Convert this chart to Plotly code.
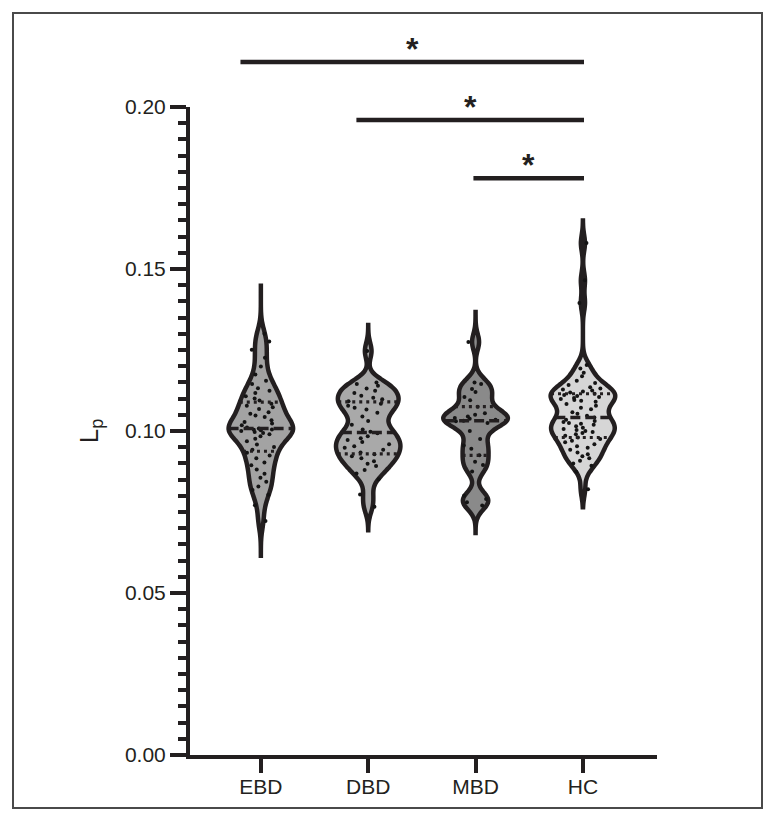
import numpy as np
import plotly.graph_objects as go

# ---------------- data ----------------
groups = ["EBD", "DBD", "MBD", "HC"]

ebd_values = [0.0722, 0.0771, 0.0803, 0.0818, 0.0829, 0.0843, 0.0856, 0.0868, 0.0881,
              0.0894, 0.0903, 0.0916, 0.0924, 0.0933, 0.0942, 0.0951, 0.0958, 0.0968,
              0.0976, 0.0984, 0.0990, 0.0994, 0.0997, 0.1000, 0.1002, 0.1004, 0.1005,
              0.1008, 0.1011, 0.1018, 0.1023, 0.1028, 0.1033, 0.1043, 0.1048, 0.1053,
              0.1058, 0.1068, 0.1073, 0.1078, 0.1084, 0.1094, 0.1100, 0.1107, 0.1117,
              0.1124, 0.1132, 0.1145, 0.1155, 0.1174, 0.1199, 0.1226, 0.1251, 0.1276,
              0.1300]

dbd_values = [0.0766, 0.0804, 0.0851, 0.0869, 0.0880, 0.0892, 0.0899, 0.0907, 0.0916,
              0.0922, 0.0928, 0.0934, 0.0942, 0.0948, 0.0953, 0.0959, 0.0966, 0.0972,
              0.0978, 0.0984, 0.0993, 0.0998, 0.1005, 0.1019, 0.1031, 0.1045, 0.1056,
              0.1066, 0.1072, 0.1078, 0.1084, 0.1092, 0.1098, 0.1103, 0.1109, 0.1117,
              0.1124, 0.1131, 0.1140, 0.1145, 0.1150, 0.1247]

mbd_values = [0.0770, 0.0780, 0.0790, 0.0800, 0.0875, 0.0895, 0.0905, 0.0925, 0.0945,
              0.0955, 0.0975, 0.1000, 0.1025, 0.1030, 0.1032, 0.1035, 0.1038, 0.1040,
              0.1045, 0.1050, 0.1055, 0.1075, 0.1095, 0.1105, 0.1120, 0.1130, 0.1145,
              0.1150, 0.1275]

hc_values = [0.0820, 0.0874, 0.0893, 0.0900, 0.0908, 0.0916, 0.0922, 0.0928, 0.0934,
             0.0942, 0.0948, 0.0953, 0.0959, 0.0965, 0.0970, 0.0975, 0.0980, 0.0985,
             0.0990, 0.0994, 0.0997, 0.1000, 0.1003, 0.1006, 0.1010, 0.1015, 0.1019,
             0.1022, 0.1025, 0.1028, 0.1031, 0.1035, 0.1042, 0.1047, 0.1053, 0.1058,
             0.1067, 0.1072, 0.1078, 0.1083, 0.1090, 0.1093, 0.1096, 0.1099, 0.1102,
             0.1105, 0.1108, 0.1111, 0.1115, 0.1119, 0.1122, 0.1125, 0.1128, 0.1131,
             0.1135, 0.1142, 0.1148, 0.1155, 0.1169, 0.1180, 0.1193, 0.1204, 0.1395,
             0.1465, 0.1580]

all_values = [ebd_values, dbd_values, mbd_values, hc_values]

kde_bandwidths = [0.0030, 0.0025, 0.0025, 0.0025]
kde_spans = [[0.0615, 0.1455], [0.0694, 0.1327], [0.0685, 0.1367], [0.0765, 0.1650]]

y_tick_values = [0.00, 0.05, 0.10, 0.15, 0.20]
y_tick_labels = ["0.00", "0.05", "0.10", "0.15", "0.20"]

# significance comparisons: start position, end position, height, label
sig_starts = [-0.19, 0.89, 1.98]
sig_ends = [3.01, 3.01, 3.01]
sig_heights = [0.2139, 0.1960, 0.1780]
sig_labels = ["*", "*", "*"]

# ---------------- style ----------------
fill_colors = ["#a3a3a3", "#a9a9a9", "#8a8a8a", "#d6d6d6"]
ink = "#231f20"
font_family = "Liberation Sans, Arial, sans-serif"
violin_width = 0.60
X_RANGE = [-0.66, 3.69]
Y_RANGE = [0.0, 0.20]


def kde_halfwidth(vals, bw, span, at):
    v = np.asarray(vals, dtype=float)

    def kde(t):
        return np.sum(np.exp(-0.5 * ((t - v) / bw) ** 2)) / (len(v) * bw * np.sqrt(2 * np.pi))

    dist = span[1] - span[0]
    n = int(np.ceil(dist / (bw / 3)))
    step = dist / n
    ts = span[0] + step * np.arange(n + 1)
    maxk = max(kde(t) for t in ts)
    return violin_width / 2 * kde(at) / maxk


fig = go.Figure()

for i, (name, vals) in enumerate(zip(groups, all_values)):
    fig.add_trace(go.Violin(
        x0=i, y=vals, name=name,
        width=violin_width, scalemode="width",
        bandwidth=kde_bandwidths[i],
        spanmode="manual", span=kde_spans[i],
        fillcolor=fill_colors[i], opacity=1,
        line=dict(color=ink, width=4.5),
        points="all", pointpos=0, jitter=0.75,
        marker=dict(size=4, color="#141414", line=dict(width=0)),
        box_visible=False, meanline_visible=False,
        showlegend=False, hoverinfo="y",
    ))

# median (dashed) and quartile (dotted) lines
for i, vals in enumerate(all_values):
    q1, med, q3 = np.percentile(vals, [25, 50, 75])
    for val, dash, w in [(med, "10px,5px", 3.5), (q1, "3px,4px", 3.2), (q3, "3px,4px", 3.2)]:
        hw = kde_halfwidth(vals, kde_bandwidths[i], kde_spans[i], val)
        fig.add_trace(go.Scatter(
            x=[i - hw, i + hw], y=[val, val], mode="lines",
            line=dict(color=ink, width=w, dash=dash),
            showlegend=False, hoverinfo="skip",
        ))


def xp(c):
    return (c - X_RANGE[0]) / (X_RANGE[1] - X_RANGE[0])


def yp(v):
    return (v - Y_RANGE[0]) / (Y_RANGE[1] - Y_RANGE[0])


shapes = []
annotations = []
for s, e, h, lab in zip(sig_starts, sig_ends, sig_heights, sig_labels):
    shapes.append(dict(type="line", xref="paper", yref="paper",
                       x0=xp(s), x1=xp(e), y0=yp(h), y1=yp(h),
                       line=dict(color=ink, width=4.5)))
    annotations.append(dict(xref="paper", yref="paper", x=xp((s + e) / 2), y=yp(h),
                            text="<b>" + lab + "</b>", showarrow=False,
                            xanchor="center", yanchor="bottom", yshift=-7,
                            font=dict(family=font_family, size=32, color=ink)))

# the page body adds an 8px offset, so the figure is 8px smaller than the window
W, H = 768, 814
ML, MR, MT, MB = 182, 119, 99, 67
pw, ph = W - ML - MR, H - MT - MB
# outer frame (window pixels 13..762 x 13..808)
shapes.append(dict(type="rect", xref="paper", yref="paper",
                   x0=(5 - ML) / pw, x1=(754 - ML) / pw,
                   y0=(H - MB - 800) / ph, y1=(H - MB - 5) / ph,
                   line=dict(color="#4a4a4a", width=2), fillcolor="rgba(0,0,0,0)"))

fig.update_layout(
    width=W, height=H,
    margin=dict(l=ML, r=MR, t=MT, b=MB),
    paper_bgcolor="white", plot_bgcolor="white",
    font=dict(family=font_family, color=ink, size=21),
    showlegend=False,
    shapes=shapes, annotations=annotations,
    violingap=0, violinmode="overlay",
)

fig.update_xaxes(
    type="linear", range=X_RANGE,
    tickmode="array", tickvals=list(range(len(groups))), ticktext=groups,
    ticks="outside", ticklen=14, tickwidth=4, tickcolor=ink,
    ticklabelstandoff=-4,
    showline=True, linewidth=4, linecolor=ink,
    showgrid=False, zeroline=False,
    tickfont=dict(size=21, color=ink, family=font_family),
)

fig.update_yaxes(
    range=Y_RANGE,
    tickmode="array", tickvals=y_tick_values, ticktext=y_tick_labels,
    ticks="outside", ticklen=16, tickwidth=4, tickcolor=ink,
    minor=dict(dtick=0.005, tick0=0, ticks="outside", ticklen=8, tickwidth=4,
               tickcolor=ink, showgrid=False),
    showline=True, linewidth=4, linecolor=ink,
    showgrid=False, zeroline=False,
    tickfont=dict(size=21, color=ink, family=font_family),
    title=dict(text="L<sub>p</sub>", font=dict(size=26, color=ink, family=font_family),
               standoff=20),
)

fig.write_html("out.html")
